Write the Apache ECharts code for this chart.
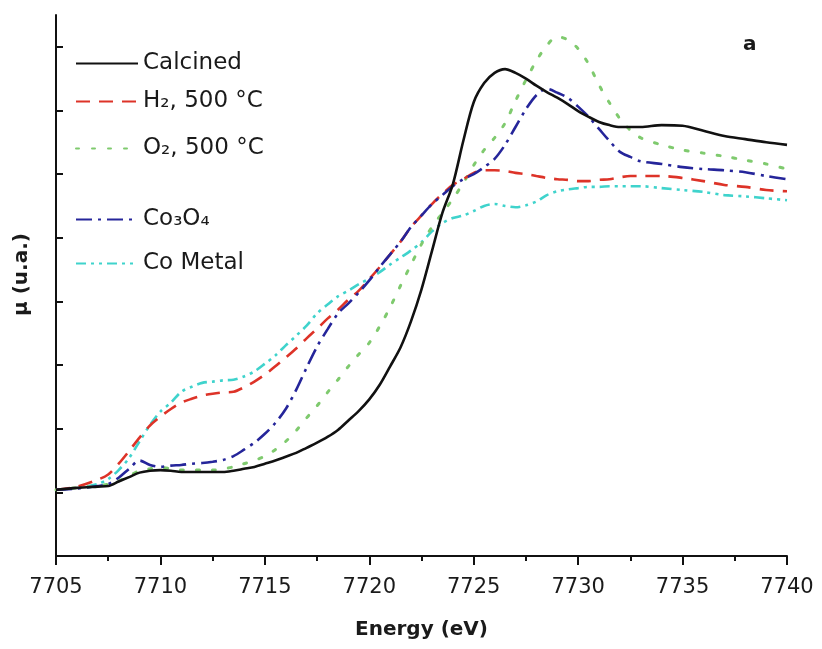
<!DOCTYPE html>
<html lang="en">
<head>
    <meta charset="UTF-8">
    <title>XANES Co K-edge</title>
    <script src="https://cdn.jsdelivr.net/npm/echarts@6.0.0/dist/echarts.min.js"></script>
    <style>
        html, body { margin: 0; padding: 0; background: #fff; }
    </style>
</head>
<body>
<div id="main" style="width: 822px;height:649px;"></div>
<script type="text/javascript">
    // energy grid (eV), shared by all curves
    const energy = [7705, 7706, 7707, 7707.5, 7708, 7708.5, 7709, 7709.5, 7710, 7710.5,
        7711, 7711.5, 7712, 7712.5, 7713, 7713.5, 7714, 7714.5, 7715, 7715.5,
        7716, 7716.5, 7717, 7717.5, 7718, 7718.5, 7719, 7719.5, 7720, 7720.5,
        7721, 7721.5, 7722, 7722.5, 7723, 7723.5, 7724, 7724.5, 7725, 7725.5,
        7726, 7726.5, 7727, 7727.5, 7728, 7728.5, 7729, 7729.5, 7730, 7730.5,
        7731, 7731.5, 7732, 7732.5, 7733, 7734, 7735, 7736, 7737, 7738, 7739, 7740];

    // absorption (arbitrary units)
    const calcined = [1.04, 1.07, 1.09, 1.10, 1.17, 1.24, 1.31, 1.34, 1.35, 1.34,
        1.32, 1.32, 1.32, 1.32, 1.32, 1.34, 1.37, 1.40, 1.45, 1.50,
        1.56, 1.62, 1.70, 1.78, 1.87, 1.98, 2.13, 2.28, 2.46, 2.69,
        2.98, 3.28, 3.69, 4.19, 4.79, 5.39, 5.84, 6.52, 7.13, 7.43,
        7.59, 7.65, 7.59, 7.50, 7.39, 7.29, 7.20, 7.10, 6.99, 6.90,
        6.82, 6.77, 6.74, 6.74, 6.74, 6.77, 6.76, 6.68, 6.60, 6.55, 6.50, 6.46];
    const h2 = [1.04, 1.09, 1.20, 1.28, 1.45, 1.65, 1.86, 2.05, 2.19, 2.31,
        2.41, 2.47, 2.52, 2.55, 2.57, 2.58, 2.65, 2.74, 2.85, 2.98,
        3.12, 3.26, 3.42, 3.57, 3.73, 3.87, 4.03, 4.17, 4.35, 4.54,
        4.74, 4.94, 5.17, 5.35, 5.53, 5.69, 5.83, 5.92, 6.02, 6.06,
        6.06, 6.05, 6.02, 6.00, 5.97, 5.94, 5.92, 5.91, 5.89, 5.89,
        5.91, 5.92, 5.95, 5.97, 5.97, 5.97, 5.94, 5.89, 5.83, 5.80, 5.75, 5.73];
    const o2 = [1.04, 1.07, 1.10, 1.13, 1.18, 1.26, 1.34, 1.37, 1.39, 1.37,
        1.35, 1.35, 1.35, 1.35, 1.37, 1.40, 1.45, 1.50, 1.57, 1.67,
        1.80, 1.97, 2.17, 2.36, 2.57, 2.77, 2.98, 3.17, 3.35, 3.61,
        3.91, 4.25, 4.58, 4.90, 5.17, 5.39, 5.61, 5.86, 6.14, 6.38,
        6.57, 6.80, 7.15, 7.48, 7.78, 8.02, 8.16, 8.11, 7.97, 7.73,
        7.40, 7.12, 6.87, 6.69, 6.57, 6.46, 6.38, 6.33, 6.28, 6.22, 6.16, 6.08];
    const co3o4 = [1.04, 1.06, 1.10, 1.13, 1.23, 1.37, 1.50, 1.43, 1.40, 1.42,
        1.43, 1.45, 1.46, 1.48, 1.51, 1.57, 1.67, 1.78, 1.92, 2.09,
        2.31, 2.61, 2.96, 3.29, 3.56, 3.81, 3.97, 4.14, 4.33, 4.54,
        4.74, 4.94, 5.17, 5.35, 5.53, 5.67, 5.81, 5.92, 6.00, 6.11,
        6.24, 6.46, 6.74, 7.02, 7.24, 7.34, 7.28, 7.20, 7.06, 6.90,
        6.71, 6.52, 6.35, 6.27, 6.20, 6.16, 6.11, 6.08, 6.06, 6.03, 5.97, 5.92];
    const coMetal = [1.04, 1.07, 1.13, 1.21, 1.35, 1.54, 1.80, 2.06, 2.27, 2.41,
        2.58, 2.66, 2.72, 2.74, 2.76, 2.77, 2.82, 2.90, 3.02, 3.15,
        3.31, 3.46, 3.62, 3.81, 3.95, 4.08, 4.17, 4.27, 4.36, 4.46,
        4.58, 4.69, 4.80, 4.93, 5.10, 5.23, 5.31, 5.35, 5.42, 5.50,
        5.53, 5.50, 5.48, 5.51, 5.57, 5.67, 5.73, 5.76, 5.78, 5.80,
        5.80, 5.81, 5.81, 5.81, 5.81, 5.78, 5.75, 5.72, 5.67, 5.65, 5.62, 5.59];

    const xTicks = [7705, 7710, 7715, 7720, 7725, 7730, 7735, 7740];
    const yTicks = [1, 2, 3, 4, 5, 6, 7, 8];

    const names = ['Calcined', 'H\u2082, 500 \u00B0C', 'O\u2082, 500 \u00B0C', 'Co\u2083O\u2084', 'Co Metal'];
    const legendTops = [52, 90, 137, 208, 252];

    const font = 'DejaVu Sans';

    function pairs(vals) { // zip energy with values
        return energy.map((e, i) => [e, vals[i]]);
    }

    // one legend per entry so the uneven spacing of the original is kept
    const legends = names.map((n, i) => ({
        data: [n],
        left: 75,
        top: legendTops[i],
        padding: 0,
        orient: 'vertical',
        itemWidth: 62,
        itemHeight: 20,
        itemGap: 0,
        selectedMode: false,
        itemStyle: { opacity: 0 },
        textStyle: { fontFamily: font, fontSize: 23, color: '#1a1a1a' }
    }));

    let option = {
        backgroundColor: '#fff',
        animation: false,
        title: {
            text: 'a', left: 738, top: 30,
            textStyle: { fontFamily: font, fontSize: 20, fontWeight: 'bold', color: '#1a1a1a' }
        },
        legend: legends,
        grid: { left: 56, right: 35, top: 15, bottom: 93 },
        xAxis: {
            type: 'value',
            min: 7705, max: 7740, interval: 5,
            name: 'Energy (eV)',
            nameLocation: 'middle',
            nameGap: 64,
            nameTextStyle: { fontFamily: font, fontSize: 20, fontWeight: 'bold', color: '#1a1a1a' },
            axisLine: { lineStyle: { color: '#111', width: 2 } },
            axisTick: { inside: false, length: 9, lineStyle: { color: '#111', width: 2 } },
            minorTick: { show: true, splitNumber: 2, length: 5, lineStyle: { color: '#111', width: 2 } },
            axisLabel: {
                fontFamily: font, fontSize: 21, color: '#1a1a1a', margin: 21,
                customValues: xTicks,
                formatter: (v) => String(v)
            },
            splitLine: { show: false }
        },
        yAxis: {
            type: 'value',
            min: 0, max: 8.5, interval: 1,
            name: '\u03BC (u.a.)',
            nameLocation: 'middle',
            nameRotate: 90,
            nameGap: 24,
            nameTextStyle: { fontFamily: font, fontSize: 20, fontWeight: 'bold', color: '#1a1a1a', padding: [0, 0, 0, 22] },
            axisLine: { show: true, lineStyle: { color: '#111', width: 2 } },
            axisTick: { show: true, inside: true, length: 7, lineStyle: { color: '#111', width: 2 }, customValues: yTicks },
            axisLabel: { show: false },
            splitLine: { show: false }
        },
        series: [
            {
                name: names[4], type: 'line', data: pairs(coMetal), showSymbol: false, symbol: 'none', smooth: 0.3,
                lineStyle: { color: '#3fd3cc', width: 2.6, type: [10, 5, 3, 5, 3, 5] },
                itemStyle: { color: '#3fd3cc' }, z: 2
            },
            {
                name: names[2], type: 'line', data: pairs(o2), showSymbol: false, symbol: 'none', smooth: 0.3,
                lineStyle: { color: '#7fca6e', width: 3, type: [3, 13], cap: 'round' },
                itemStyle: { color: '#7fca6e' }, z: 3
            },
            {
                name: names[1], type: 'line', data: pairs(h2), showSymbol: false, symbol: 'none', smooth: 0.3,
                lineStyle: { color: '#dd3328', width: 2.6, type: [14, 9] },
                itemStyle: { color: '#dd3328' }, z: 4
            },
            {
                name: names[3], type: 'line', data: pairs(co3o4), showSymbol: false, symbol: 'none', smooth: 0.3,
                lineStyle: { color: '#25259a', width: 2.6, type: [16, 6, 3, 6] },
                itemStyle: { color: '#25259a' }, z: 5
            },
            {
                name: names[0], type: 'line', data: pairs(calcined), showSymbol: false, symbol: 'none', smooth: 0.3,
                lineStyle: { color: '#111', width: 2.6, type: 'solid' },
                itemStyle: { color: '#111' }, z: 6
            }
        ]
    };

    let myChart = echarts.init(document.getElementById('main'));
    myChart.setOption(option);
</script>
</body>
</html>
